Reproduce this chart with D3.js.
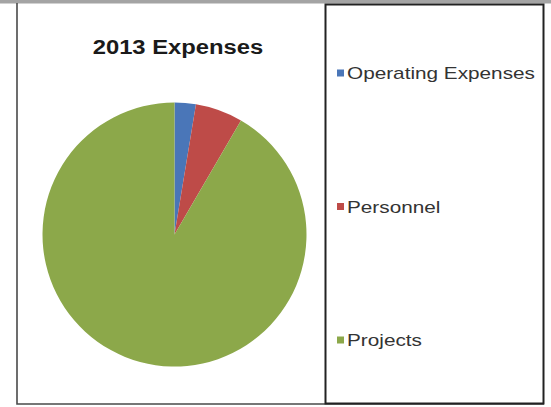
<!DOCTYPE html>
<html>
<head>
<meta charset="utf-8">
<script src="https://cdn.jsdelivr.net/npm/d3@7"></script>
<style>
  html, body { margin: 0; padding: 0; background: #fff; }
  svg { display: block; }
</style>
</head>
<body>
<svg id="chart" width="551" height="407"></svg>
<script>
const title = "2013 Expenses";
const categories = ["Operating Expenses", "Personnel", "Projects"];
const values = [2.6, 5.8, 91.6];
const colors = ["#4A76B8", "#BE4B48", "#8CA84A"];

const svg = d3.select("#chart");
const W = 551, H = 407;
const stretch = 1.22;

svg.append("rect").attr("width", W).attr("height", H).attr("fill", "#fff");

// top grey band
svg.append("rect").attr("x", 0).attr("y", 0).attr("width", W).attr("height", 3.5).attr("fill", "#a4a4a4");

// outer frame (left & bottom)
svg.append("path")
  .attr("d", "M17,3 L17,404 L544,404")
  .attr("fill", "none").attr("stroke", "#4a4a4a").attr("stroke-width", 1.6);

// legend box
svg.append("rect")
  .attr("x", 325.5).attr("y", 4.5).attr("width", 218).attr("height", 399)
  .attr("fill", "none").attr("stroke", "#222").attr("stroke-width", 2);

// title
const t = svg.append("text")
  .attr("x", 178).attr("y", 53.5)
  .attr("text-anchor", "middle")
  .attr("font-family", "Liberation Sans, Arial, sans-serif")
  .attr("font-weight", "bold").attr("font-size", 19.5)
  .attr("fill", "#1a1a1a")
  .text(title);
t.attr("textLength", t.node().getComputedTextLength() * stretch).attr("lengthAdjust", "spacingAndGlyphs");

// pie
const cx = 174.5, cy = 234.5, r = 132;
const pie = d3.pie().sort(null).value(d => d.v);
const arc = d3.arc().innerRadius(0).outerRadius(r);
const data = categories.map((c, i) => ({ c, v: values[i], col: colors[i] }));
svg.append("g").attr("transform", `translate(${cx},${cy})`)
  .selectAll("path").data(pie(data)).join("path")
  .attr("d", arc)
  .attr("fill", d => d.data.col);

// legend
const ly = d3.scalePoint().domain(categories).range([73, 340]);
const lg = svg.append("g").selectAll("g").data(data).join("g")
  .attr("transform", d => `translate(0,${ly(d.c)})`);
lg.append("rect").attr("x", 337).attr("y", -3.5).attr("width", 7).attr("height", 7)
  .attr("fill", d => d.col);
lg.append("text")
  .attr("x", 347).attr("y", 6)
  .attr("font-family", "Liberation Sans, Arial, sans-serif")
  .attr("font-size", 17)
  .attr("fill", "#333")
  .text(d => d.c)
  .each(function() {
    const len = this.getComputedTextLength();
    d3.select(this).attr("textLength", len * stretch).attr("lengthAdjust", "spacingAndGlyphs");
  });
</script>
</body>
</html>
